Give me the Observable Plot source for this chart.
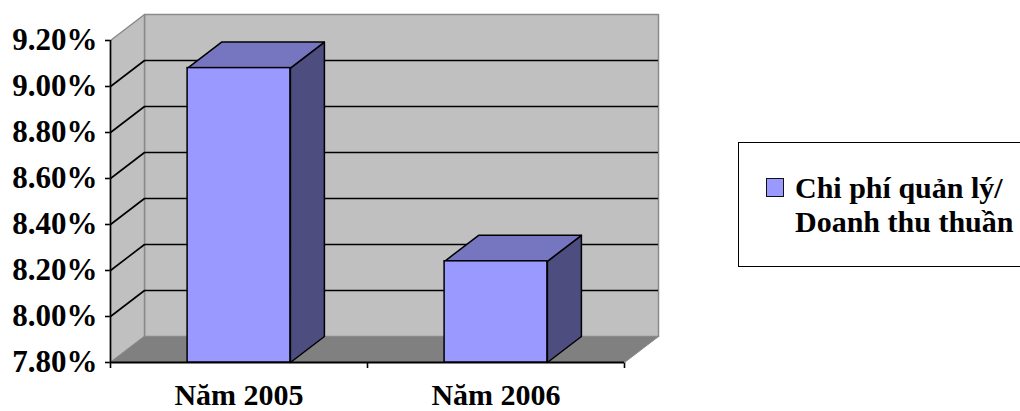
<!DOCTYPE html>
<html>
<head>
<meta charset="utf-8">
<script src="https://cdn.jsdelivr.net/npm/d3@7"></script>
<script src="https://cdn.jsdelivr.net/npm/@observablehq/plot@0.6"></script>
<style>
  html, body { margin: 0; padding: 0; background: #fff; overflow: hidden; }
  #wrap { position: relative; width: 1020px; height: 411px; overflow: hidden; }
  #legend { position: absolute; left: 738px; top: 142px; width: 330px; height: 125px;
    border: 1.5px solid #000; background: #fff; box-sizing: border-box;
    font-family: 'Liberation Serif'; font-weight: bold; font-size: 30px; line-height: 34px; color: #000; }
  #legend .sw { position: absolute; left: 27px; top: 35px; width: 16px; height: 17px; background: #9999ff; border: 1.5px solid #111; }
  #legend .tx { position: absolute; left: 56px; top: 28px; white-space: nowrap; font-family: 'Liberation Serif'; }
  svg text { font-family: 'Liberation Serif'; font-weight: bold; }
  svg [aria-label^="y-axis"] line, svg [aria-label^="x-axis"] line, svg [aria-label^="y-axis"] path, svg [aria-label^="x-axis"] path { stroke: #000; stroke-width: 1.6; }
</style>
</head>
<body>
<div id="wrap"><div id="chart"></div><div id="legend"><div class="sw"></div><div class="tx"></div></div></div>
<script>
// ---- data ----
const categories = ["Năm 2005", "Năm 2006"];
const values = [9.08, 8.24];
const yTicks = [7.8, 8.0, 8.2, 8.4, 8.6, 8.8, 9.0, 9.2];
const seriesLabel = ["Chi phí quản lý/", "Doanh thu thuần"];

// ---- layout / style ----
const W = 1020, H = 411, mL = 110, mR = 396, mT = 40, mB = 49;
const n = categories.length;
const yMin = yTicks[0], yMax = yTicks[yTicks.length - 1];
const depthPx = {x: 34, y: 26};
const DX = depthPx.x / ((W - mL - mR) / n);
const DY = depthPx.y / ((H - mT - mB) / (yMax - yMin));
const barFrac = 0.4;
const C = {wall: "#c0c0c0", wallEdge: "#8a8a8a", floor: "#808080", front: "#9999ff", top: "#7575c0", side: "#4d4d80"};

const pts = (arr, id) => arr.map(([x, y]) => ({x, y, id}));
const backWall = pts([[DX, yMin + DY], [DX, yMax + DY], [n + DX, yMax + DY], [n + DX, yMin + DY]], "back");
const leftWall = pts([[0, yMin], [0, yMax], [DX, yMax + DY], [DX, yMin + DY]], "left");
const floor = pts([[0, yMin], [n, yMin], [n + DX, yMin + DY], [DX, yMin + DY]], "floor");

const bars = categories.map((cat, i) => ({cat, i, v: values[i], x0: i + (1 - barFrac) / 2, x1: i + (1 + barFrac) / 2}));
const tops = bars.flatMap(b => pts([[b.x0, b.v], [b.x1, b.v], [b.x1 + DX, b.v + DY], [b.x0 + DX, b.v + DY]], b.i));
const sides = bars.flatMap(b => pts([[b.x1, yMin], [b.x1, b.v], [b.x1 + DX, b.v + DY], [b.x1 + DX, yMin + DY]], b.i));
const inner = yTicks.filter(t => t > yMin && t < yMax);

const chart = Plot.plot({
  width: W, height: H,
  marginLeft: mL, marginRight: mR, marginTop: mT, marginBottom: mB,
  style: {fontFamily: "Liberation Serif", fontSize: "31px", fontWeight: "bold", color: "#000", background: "transparent"},
  x: {domain: [0, n], ticks: d3.range(n + 1), tickFormat: () => "", tickSize: 6, label: null},
  y: {domain: [yMin, yMax], ticks: yTicks, tickFormat: d => d.toFixed(2) + "%", tickSize: 5, tickPadding: 8, label: null},
  marks: [
    Plot.line(backWall, {x: "x", y: "y", curve: "linear-closed", fill: C.wall, stroke: C.wallEdge, strokeWidth: 1.5}),
    Plot.line(leftWall, {x: "x", y: "y", curve: "linear-closed", fill: C.wall, stroke: C.wallEdge, strokeWidth: 1.5}),
    Plot.line(floor, {x: "x", y: "y", curve: "linear-closed", fill: C.floor, stroke: C.wallEdge, strokeWidth: 1}),
    Plot.ruleY(inner, {y: d => d + DY, x1: DX, x2: n + DX, stroke: "#000", strokeWidth: 1.6}),
    Plot.link(inner, {x1: 0, y1: d => d, x2: DX, y2: d => d + DY, stroke: "#000", strokeWidth: 1.6}),
    Plot.ruleX([0], {y1: yMin, y2: yMax, stroke: "#000", strokeWidth: 1.6}),
    Plot.ruleY([yMin], {x1: 0, x2: n, stroke: "#000", strokeWidth: 2}),
    Plot.line(sides, {x: "x", y: "y", z: "id", curve: "linear-closed", fill: C.side, stroke: "#000", strokeWidth: 1.5}),
    Plot.line(tops, {x: "x", y: "y", z: "id", curve: "linear-closed", fill: C.top, stroke: "#000", strokeWidth: 1.5}),
    Plot.rect(bars, {x1: "x0", x2: "x1", y1: () => yMin, y2: "v", fill: C.front, stroke: "#000", strokeWidth: 1.5}),
    Plot.text(bars, {x: d => d.i + 0.5, y: () => yMin, text: "cat", dy: 33, fontSize: 30, fontWeight: "bold", fill: "#000", fontFamily: "Liberation Serif"})
  ]
});
document.getElementById("chart").appendChild(chart);
document.querySelector("#legend .tx").innerHTML = seriesLabel.join("<br>");
</script>
</body>
</html>
